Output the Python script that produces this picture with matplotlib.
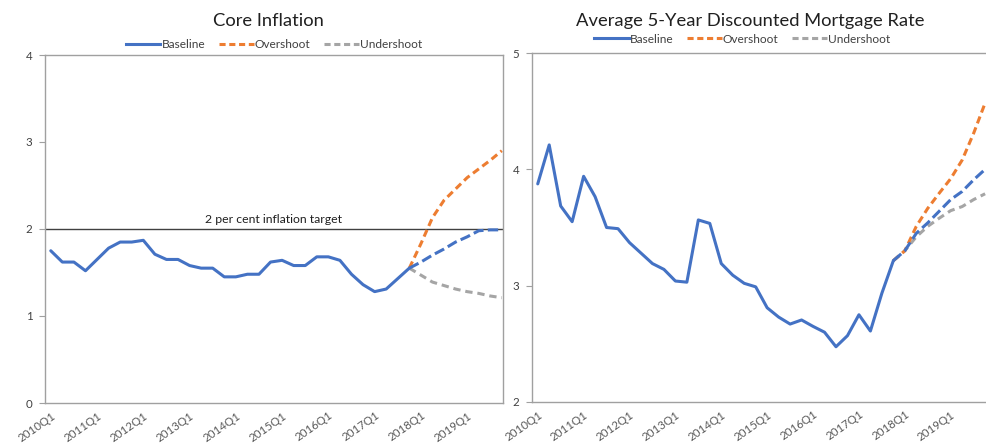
import matplotlib
matplotlib.use("Agg")
import matplotlib.pyplot as plt
from matplotlib.lines import Line2D

plt.rcParams['font.family'] = ['Lato', 'DejaVu Sans']

# quarters 2010Q1 .. 2019Q4
quarters = [f"{y}Q{q}" for y in range(2010, 2020) for q in range(1, 5)]

# core inflation, history up to 2017Q4
core_hist = [1.75, 1.62, 1.62, 1.52, 1.65, 1.78, 1.85, 1.85, 1.87, 1.71,
             1.65, 1.65, 1.58, 1.55, 1.55, 1.45, 1.45, 1.48, 1.48, 1.62,
             1.64, 1.58, 1.58, 1.68, 1.68, 1.64, 1.48, 1.36, 1.28, 1.31,
             1.43, 1.55]
# projections 2017Q4 .. 2019Q4
core_base = [1.55, 1.62, 1.70, 1.77, 1.85, 1.91, 1.98, 1.99, 1.99]
core_over = [1.55, 1.83, 2.13, 2.33, 2.46, 2.59, 2.69, 2.79, 2.90]
core_under = [1.55, 1.47, 1.39, 1.35, 1.31, 1.28, 1.26, 1.23, 1.21]

# mortgage rate
mort_hist = [3.875, 4.21, 3.685, 3.55, 3.94, 3.765, 3.50, 3.49, 3.37, 3.28,
             3.19, 3.14, 3.04, 3.03, 3.565, 3.535, 3.19, 3.09, 3.02, 2.99,
             2.81, 2.73, 2.67, 2.705, 2.65, 2.60, 2.475, 2.57, 2.75, 2.61,
             2.935, 3.215]
mort_base = [3.215, 3.30, 3.45, 3.54, 3.64, 3.74, 3.81, 3.91, 4.00]
mort_over = [3.215, 3.30, 3.51, 3.665, 3.795, 3.92, 4.08, 4.31, 4.57]
mort_under = [3.215, 3.30, 3.42, 3.51, 3.58, 3.645, 3.68, 3.74, 3.79]

BLUE = '#4472C4'
ORANGE = '#ED7D31'
GRAY = '#A5A5A5'
LW = 2.2

W, H = 987, 447
fig = plt.figure(figsize=(W / 100, H / 100), dpi=100)


def draw_panel(ax, hist, base, over, under):
    xh = list(range(len(hist)))
    start = len(hist) - 1
    xp = list(range(start, start + len(base)))
    ax.plot(xp, under, color=GRAY, lw=LW, dashes=(2.4, 1.6))
    ax.plot(xp, over, color=ORANGE, lw=LW, dashes=(2.4, 1.4))
    ax.plot(xp, base, color=BLUE, lw=LW, dashes=(3.4, 1.4))
    ax.plot(xh, hist, color=BLUE, lw=LW, solid_capstyle='round')
    ticks = list(range(0, len(quarters), 4))
    ax.set_xticks(ticks)
    ax.set_xticklabels([quarters[t] for t in ticks], rotation=35, ha='right',
                       va='top', rotation_mode='anchor', fontsize=8.3, color='#595959')
    ax.tick_params(axis='x', length=0, pad=5)
    ax.tick_params(axis='y', length=4, color='#a0a0a0', labelsize=8.3,
                   labelcolor='#404040', pad=5)
    for s in ax.spines.values():
        s.set_color('#a0a0a0')
        s.set_linewidth(1)


def legend_above(ax, x, y):
    handles = [Line2D([], [], color=BLUE, lw=LW),
               Line2D([], [], color=ORANGE, lw=LW, dashes=(2.0, 1.2)),
               Line2D([], [], color=GRAY, lw=LW, dashes=(2.0, 1.2))]
    ax.legend(handles, ['Baseline', 'Overshoot', 'Undershoot'], loc='center',
              bbox_to_anchor=(x, y), ncol=3, frameon=False, fontsize=8.6,
              handlelength=2.9, handletextpad=0.1, columnspacing=1.15,
              borderaxespad=0, labelcolor='#404040')


# left panel
ax1 = fig.add_axes([45 / W, 1 - 403 / H, 458 / W, 348 / H])
draw_panel(ax1, core_hist, core_base, core_over, core_under)
ax1.axhline(2, color='#404040', lw=1, zorder=1)
ax1.text(19.3, 2.05, '2 per cent inflation target',
         ha='center', va='bottom', fontsize=8.8, color='#202020')
ax1.set_xlim(-0.5, 39.1)
ax1.set_ylim(0, 4)
ax1.set_yticks([0, 1, 2, 3, 4])
legend_above(ax1, 0.5, 1.03)
fig.text(268 / W, 1 - 21 / H, 'Core Inflation', ha='center', va='center',
         fontsize=13.2, color='#202020')

# right panel (cut at the right edge like the source)
ax2 = fig.add_axes([532 / W, 1 - 402 / H, 460 / W, 349 / H])
draw_panel(ax2, mort_hist, mort_base, mort_over, mort_under)
ax2.set_xlim(-0.5, 39.6)
ax2.set_ylim(2, 5)
ax2.set_yticks([2, 3, 4, 5])
ax2.spines['right'].set_visible(False)
legend_above(ax2, 0.457, 1.04)
fig.text(750 / W, 1 - 21 / H, 'Average 5-Year Discounted Mortgage Rate',
         ha='center', va='center', fontsize=13.2, color='#202020')

fig.savefig('out.png', dpi=100)
